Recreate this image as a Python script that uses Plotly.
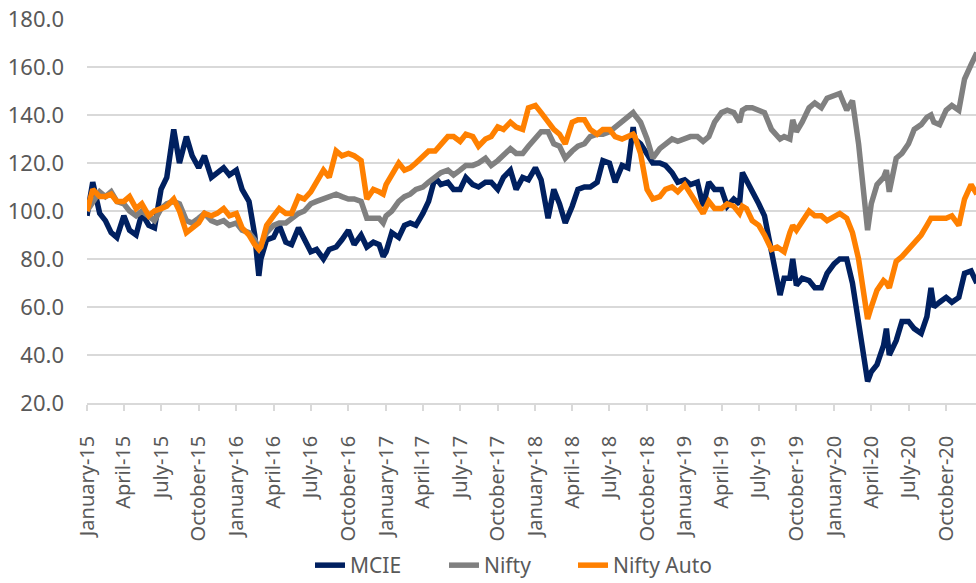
import plotly.graph_objects as go

dates = [
    "2015-01-01","2015-01-15","2015-02-01","2015-02-15","2015-03-01","2015-03-15","2015-04-01","2015-04-15",
    "2015-05-01","2015-05-15","2015-06-01","2015-06-15","2015-07-01","2015-07-15","2015-08-01","2015-08-15",
    "2015-09-01","2015-09-15","2015-10-01","2015-10-15","2015-11-01","2015-11-15","2015-12-01","2015-12-15",
    "2016-01-01","2016-01-15","2016-02-01","2016-02-15","2016-02-25","2016-03-01","2016-03-15","2016-04-01",
    "2016-04-15","2016-05-01","2016-05-15","2016-06-01","2016-06-15","2016-07-01","2016-07-15","2016-08-01",
    "2016-08-15","2016-09-01","2016-09-15","2016-10-01","2016-10-15","2016-11-01","2016-11-15","2016-12-01",
    "2016-12-15","2016-12-25",
    "2017-01-01","2017-01-15","2017-02-01","2017-02-15","2017-03-01","2017-03-15","2017-04-01","2017-04-15",
    "2017-05-01","2017-05-15","2017-06-01","2017-06-15","2017-07-01","2017-07-15","2017-08-01","2017-08-15",
    "2017-09-01","2017-09-15","2017-10-01","2017-10-15","2017-11-01","2017-11-15","2017-12-01","2017-12-15",
    "2018-01-01","2018-01-15","2018-02-01","2018-02-15","2018-03-01","2018-03-15","2018-04-01","2018-04-15",
    "2018-05-01","2018-05-15","2018-06-01","2018-06-15","2018-07-01","2018-07-15","2018-08-01","2018-08-15",
    "2018-08-28","2018-09-01","2018-09-15","2018-10-01","2018-10-15","2018-11-01","2018-11-15","2018-12-01",
    "2018-12-15",
    "2019-01-01","2019-01-15","2019-02-01","2019-02-15","2019-03-01","2019-03-15","2019-04-01","2019-04-15",
    "2019-05-01","2019-05-15","2019-05-22","2019-06-01","2019-06-15","2019-07-01","2019-07-15","2019-08-01",
    "2019-08-15","2019-08-22","2019-09-01","2019-09-15","2019-09-22","2019-10-01","2019-10-15","2019-11-01",
    "2019-11-15","2019-12-01","2019-12-15",
    "2020-01-01","2020-01-15","2020-02-01","2020-02-15","2020-03-01","2020-03-15","2020-03-23","2020-04-01",
    "2020-04-15","2020-05-01","2020-05-08","2020-05-15","2020-06-01","2020-06-15","2020-07-01","2020-07-15",
    "2020-08-01","2020-08-15","2020-08-25","2020-09-01","2020-09-15","2020-10-01","2020-10-15","2020-11-01",
    "2020-11-15","2020-12-01","2020-12-15",
]

mcie = [
    98,112,99,96,91,89,98,92, 90,99,94,93,109,114,134,120, 131,123,118,123,114,116,118,115,
    117,109,104,90,73,80,88,89, 94,87,86,93,88,83,84,80, 84,85,88,92,86,90,85,87, 86,81,
    83,91,89,94,95,94,99,104, 114,111,112,109,109,114,111,110, 112,112,109,114,117,109,114,113,
    118,113,97,109,103,95,102,109, 110,110,112,121,120,112,119,118, 135,130,128,124,120,120,119,116,
    112,
    113,111,112,102,112,109,109,102, 105,103,116,113,108,103,98,83, 72,65,72,72,80,69,72,71,
    68,68,74,
    78,80,80,70,55,38,29,33, 36,44,51,40,46,54,54,51, 49,56,68,60,62,64,62,64, 74,75,70,
]

nifty = [
    100,104,108,106,108,104,103,100, 98,100,98,96,101,103,104,103, 96,95,97,99,96,95,96,94,
    95,92,91,88,84,86,91,94, 95,95,97,99,100,103,104,105, 106,107,106,105,105,104,97,97, 97,95,
    98,100,104,106,107,109,110,112, 114,116,117,115,117,119,119,120, 122,119,121,123,126,124,124,127,
    130,133,133,128,127,122,125,127, 128,131,132,132,133,135,137,139, 141,140,137,130,122,126,128,130,
    129,
    130,131,131,129,131,137,141,142, 141,137,142,143,143,142,141,134, 131,130,131,130,138,133,137,143,
    145,143,147,
    148,149,142,146,128,108,92,103, 111,114,117,108,122,124,128,134, 136,139,140,137,136,142,144,142,
    155,161,166,
]

nifty_auto = [
    100,109,106,106,107,104,104,106, 101,103,98,100,101,102,105,100, 91,93,95,99,98,99,101,98,
    99,93,90,86,84,85,94,98, 101,99,99,106,105,108,112,117, 114,125,123,124,123,121,105,109, 108,107,
    111,115,120,117,118,120,123,125, 125,128,131,131,129,132,131,127, 130,131,135,134,137,135,134,143,
    144,141,137,134,132,128,137,138, 138,134,132,134,134,131,130,131, 132,131,124,109,105,106,109,110,
    108,
    111,107,103,99,104,101,101,103, 102,99,102,101,96,94,90,84, 85,84,83,91,94,92,96,100,
    98,98,96,
    98,99,97,91,80,63,55,60, 67,71,70,68,79,81,84,87, 90,94,97,97,97,97,98,94,
    105,111,107,
]

series_names = ["MCIE", "Nifty", "Nifty Auto"]
series_colors = ["#002060", "#808080", "#FF8000"]
legend_widths = [89, 84, 100]
y_ticks = [20, 40, 60, 80, 100, 120, 140, 160, 180]

FONT = "Noto Sans, Open Sans, Liberation Sans, sans-serif"

fig = go.Figure()
for name, vals, col, lw in zip(series_names, [mcie, nifty, nifty_auto], series_colors, legend_widths):
    fig.add_trace(go.Scatter(
        x=dates, y=vals, name=name, mode="lines",
        line=dict(color=col, width=5.5),
        legendwidth=lw,
    ))

fig.update_layout(
    width=976, height=583,
    margin=dict(l=87, r=0, t=19, b=180, autoexpand=False),
    paper_bgcolor="white", plot_bgcolor="white",
    showlegend=True,
    legend=dict(
        orientation="h",
        xref="container", x=0.3176, xanchor="left",
        yref="container", y=0.030, yanchor="middle",
        font=dict(family=FONT, size=21, color="#595959"),
    ),
)
fig.update_xaxes(
    type="date", automargin=False,
    range=["2015-01-01", "2020-12-13"],
    tick0="2015-01-01", dtick="M3", tickformat="%B-%y",
    tickangle=-90,
    ticks="outside", ticklen=6, tickcolor="#D9D9D9", tickwidth=1.5,
    ticklabelstandoff=17,
    showgrid=False, showline=True, linecolor="#D9D9D9", linewidth=1.5,
    tickfont=dict(family=FONT, size=20, color="#595959"),
)
fig.update_yaxes(
    automargin=False,
    range=[20, 180], tickvals=y_ticks, tickformat=".1f",
    showgrid=True, gridcolor="#D9D9D9", gridwidth=1.5,
    zeroline=False, showline=False, ticks="",
    ticklabelstandoff=22,
    tickfont=dict(family=FONT, size=22, color="#595959"),
)

fig.write_html("out.html", config={"displayModeBar": False},
               post_script="document.body.style.margin='0';")
